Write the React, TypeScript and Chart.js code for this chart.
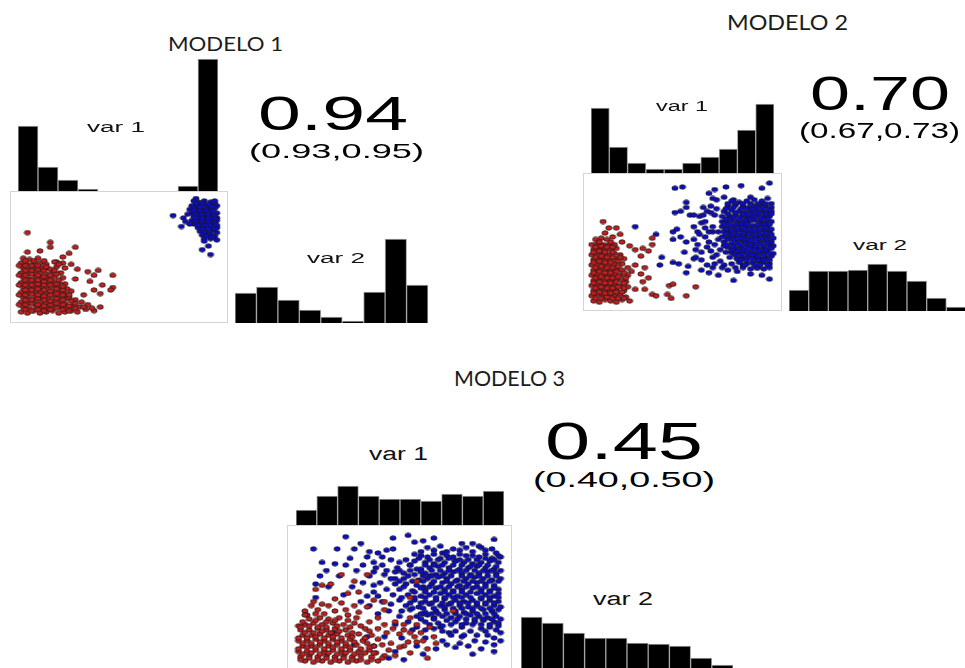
import React, { useEffect, useRef } from "react";
import { Chart, registerables } from "chart.js";
Chart.register(...registerables);

// ---------- DATA ----------
const titles = ["MODELO 1", "MODELO 2", "MODELO 3"];
const corrValues = ["0.94", "0.70", "0.45"];
const corrCIs = ["(0.93,0.95)", "(0.67,0.73)", "(0.40,0.50)"];
const varLabels = ["var 1", "var 2"];

const bins10 = ["1", "2", "3", "4", "5", "6", "7", "8", "9", "10"];
const bins9 = ["1", "2", "3", "4", "5", "6", "7", "8", "9"];

// histogram frequencies (relative units)
const m1Var1 = [65, 24, 11, 2, 0, 0, 0, 0, 5, 132];
const m1Var2 = [30, 36, 23, 13, 6, 2, 31, 84, 38];
const m2Var1 = [65, 26, 10, 4, 4, 10, 16, 24, 43, 69];
const m2Var2 = [21, 40, 40, 41, 47, 40, 30, 13, 4];
const m3Var1 = [15, 29, 39, 29, 26, 26, 24, 31, 29, 34];
const m3Var2 = [53, 47, 37, 32, 32, 27, 26, 24, 12, 5];

// scatter points [var1, var2] on a 0-100 scale
const m1Red = [
  [6,70],[17,62],[17,58],[6,54],[12,55],[29,58],[26,53],[23,50],[35,38],[40,39],[38,35],[47,35],[36,30],[42,27],[47,25],[46,23],[41,20],[33,19],[38,23],[35,11],[41,9],[32,13],[29,15],[29,32],[20,46],[15,41],[30,40],[27,44],
  [3,5],[6,4],[9,6],[12,4],[15,5],[18,6],[21,4],[24,5],[27,6],[30,5],[34,7],[38,6],
  [4,9],[7,8],[10,10],[13,9],[16,8],[19,10],[22,9],[25,8],[28,10],[31,9],
  [3,13],[6,12],[9,14],[12,13],[15,12],[18,14],[21,13],[24,12],[27,14],
  [4,17],[7,16],[10,18],[13,17],[16,16],[19,18],[22,17],[25,16],
  [3,21],[6,20],[9,22],[12,21],[15,20],[18,22],[21,21],[24,20],[27,22],
  [4,25],[7,24],[10,26],[13,25],[16,24],[19,26],[22,25],[25,24],
  [3,29],[6,28],[9,30],[12,29],[15,28],[18,30],[21,29],[24,28],
  [4,33],[7,32],[10,34],[13,33],[16,32],[19,34],[23,33],
  [3,37],[6,36],[9,38],[12,37],[15,36],[18,38],[22,37],
  [4,41],[7,40],[10,42],[13,41],[17,40],[20,42],[24,41],
  [3,45],[6,44],[9,46],[12,45],[15,44],[19,46],[23,45],
  [4,49],[7,48],[11,49],[14,47],
  [5,7],[8,6],[11,7],[14,6],[17,7],[20,8],[23,7],[26,6],[29,8],[33,9],[37,8],
  [2,11],[5,11],[8,12],[11,11],[14,10],[17,11],[20,12],[23,11],[26,10],[29,12],
  [5,15],[8,15],[11,16],[14,15],[17,14],[20,16],[23,15],[26,17],
  [2,19],[5,19],[8,20],[11,19],[14,18],[17,19],[20,20],[23,19],[26,19],
  [5,23],[8,23],[11,24],[14,23],[17,22],[20,24],[23,23],
  [2,27],[5,27],[8,27],[11,28],[14,27],[17,27],[20,28],[23,26],
  [5,31],[8,31],[11,31],[14,30],[17,31],[21,31],
  [2,35],[5,35],[8,36],[11,35],[14,34],[17,35],[20,36],
  [5,39],[8,39],[11,40],[14,39],[19,39],
  [2,43],[5,43],[8,43],[11,43],[15,42],[21,44],
  [5,47],[9,47]
];
const m1Blue = [
  [88,95],[91,96],[94,95],[96,94],
  [85,92],[88,92],[91,93],[94,92],[97,92],
  [84,89],[87,90],[90,89],[93,89],[96,90],
  [85,86],[88,86],[91,87],[94,86],[97,86],
  [86,83],[89,83],[92,84],[95,83],[97,82],
  [85,80],[88,80],[91,81],[94,80],[97,80],
  [86,77],[89,77],[92,78],[95,77],
  [88,74],[91,74],[94,75],[97,74],
  [89,71],[92,71],[95,72],[97,70],
  [90,68],[93,68],[96,67],
  [91,65],[94,65],[97,64],
  [87,98],[76,84],[81,82],[83,85],[80,75],[84,77],[90,56],[93,59],[94,52],[91,63],[82,79],[86,96],
  [87,94],[90,94],[93,93],[96,96],[86,90],[89,91],[92,90],[95,91],[86,88],[89,88],[92,88],[95,88],
  [87,85],[90,85],[93,85],[96,84],[87,82],[90,82],[93,82],[96,81],[87,79],[90,79],[93,79],[96,78],
  [88,76],[91,76],[94,76],[97,76],[90,73],[93,73],[96,73],[91,70],[94,69],[92,67],[95,66]
];

const m2Red = [
  [8,66],[11,61],[15,61],[13,54],[18,50],[22,47],[25,44],[29,45],[28,39],[32,43],[34,53],[34,48],[30,30],[32,22],[25,32],[23,27],[29,19],[25,13],[30,13],[34,9],[36,8],[43,16],[45,17],[42,9],[44,6],[52,8],[57,15],[20,19],[21,30],[28,25],
  [3,4],[6,3],[9,5],[12,4],[15,3],[18,5],[22,4],
  [2,8],[5,9],[8,8],[11,9],[14,8],[17,9],[20,7],
  [3,12],[6,13],[9,12],[12,12],[15,13],[19,12],
  [2,16],[5,17],[8,16],[11,16],[14,17],[17,16],[21,15],
  [3,20],[6,21],[9,20],[12,20],[15,21],[18,20],
  [2,24],[5,25],[8,24],[11,24],[14,25],[17,24],[21,24],
  [3,28],[6,29],[9,28],[12,28],[15,29],[18,28],
  [2,32],[5,33],[8,32],[11,32],[14,33],[18,33],
  [3,36],[6,37],[9,36],[12,36],[15,37],[19,37],
  [2,40],[5,41],[8,40],[11,40],[14,41],[17,40],
  [3,44],[6,45],[9,44],[12,44],[15,45],
  [2,48],[5,49],[8,48],[11,48],[14,48],
  [4,52],[7,53],[10,52],[17,56],[9,57],
  [4,6],[7,6],[10,7],[13,6],[16,6],[19,6],
  [3,10],[6,11],[9,10],[12,10],[15,11],[18,11],
  [4,14],[7,15],[10,14],[13,14],[16,15],[19,14],
  [3,18],[6,19],[9,18],[12,18],[15,19],[19,18],
  [4,22],[7,23],[10,22],[13,22],[16,23],[20,22],
  [3,26],[6,27],[9,26],[12,26],[15,27],[19,26],
  [4,30],[7,31],[10,30],[13,30],[16,31],
  [3,34],[6,35],[9,34],[12,34],[16,35],
  [4,38],[7,39],[10,38],[13,38],[17,38],
  [3,42],[6,43],[9,42],[13,42],
  [4,46],[7,47],[10,46],[13,46],
  [6,50],[12,50]
];
const m2Blue = [
  [46,92],[50,93],[25,62],[36,56],[45,58],[47,60],[46,73],[49,74],[52,81],[52,77],[45,52],[49,54],[52,50],[51,42],[39,38],[38,32],[45,34],[48,33],[52,26],[53,31],[56,37],[57,44],[56,52],[58,58],[60,65],[61,77],[64,88],[67,91],[68,83],[72,85],[73,93],[81,94],[86,85],[92,92],[96,96],[77,83],[54,71],[56,71],[59,70],[62,61],[66,58],[62,54],[64,50],[65,43],[66,38],[60,36],[63,32],[66,30],[72,32],[69,24],[77,20],[79,27],[86,25],[92,24],[96,21],[90,30],[82,32],[74,59],[71,66],[67,71],[65,73],[61,71],[69,52],[72,47],[76,42],[79,37],
  [76,82],[80,81],[84,82],[88,83],[92,82],[95,84],[97,80],
  [74,78],[78,79],[82,78],[85,77],[88,78],[91,79],[94,78],[97,77],
  [72,74],[76,75],[80,74],[83,73],[86,74],[89,75],[92,74],[95,73],[97,74],
  [71,70],[75,70],[78,71],[81,70],[84,69],[87,70],[90,71],[93,70],[96,70],
  [73,66],[76,67],[79,66],[82,65],[85,66],[88,67],[91,66],[94,65],[97,66],
  [71,62],[74,61],[77,62],[80,63],[83,62],[86,61],[89,62],[92,63],[95,62],
  [72,58],[75,57],[78,58],[81,59],[84,58],[87,57],[90,58],[93,59],[96,58],
  [71,54],[74,53],[77,54],[80,55],[83,54],[86,53],[89,54],[92,55],[95,54],[98,53],
  [72,50],[76,49],[79,50],[82,51],[85,50],[88,49],[91,50],[94,51],[97,50],
  [74,46],[78,45],[81,46],[84,47],[87,46],[90,45],[93,46],[96,47],
  [73,42],[77,41],[80,42],[83,43],[86,42],[89,41],[92,42],[95,43],[98,41],
  [75,38],[79,37],[82,38],[85,39],[88,38],[91,37],[94,38],[97,39],
  [80,34],[84,33],[87,34],[90,35],[93,34],[96,33],
  [82,30],[86,29],[89,30],[93,29],[96,30],
  [74,80],[78,80],[82,80],[86,80],[90,80],[94,80],
  [73,76],[77,77],[81,76],[84,76],[87,76],[90,77],[93,76],[96,75],
  [74,72],[78,73],[82,72],[85,71],[88,72],[91,73],[94,72],[97,72],
  [73,68],[77,69],[80,68],[83,67],[86,68],[89,69],[92,68],[95,68],
  [72,64],[75,64],[78,64],[81,64],[84,64],[87,63],[90,64],[93,64],[96,64],
  [73,60],[76,59],[79,60],[82,61],[85,60],[88,59],[91,60],[94,61],[97,60],
  [73,56],[76,55],[79,56],[82,57],[85,56],[88,55],[91,56],[94,57],[97,56],
  [74,52],[77,52],[80,53],[83,52],[86,51],[89,52],[92,53],[95,52],
  [73,48],[77,47],[80,48],[83,49],[86,48],[89,47],[92,48],[95,49],[98,47],
  [76,44],[79,43],[82,44],[85,45],[88,44],[91,43],[94,44],[97,45],
  [78,40],[81,40],[84,41],[87,40],[90,39],[93,40],[96,41],
  [81,36],[84,36],[87,37],[90,36],[93,36],[96,36],
  [83,32],[88,32],[91,32],[95,32],
  [56,62],[58,48],[60,42],[62,66],[63,46],[64,58],[65,78],[66,62],[67,48],[68,40],[68,76],[69,58],[70,44],[70,35],[66,84],[63,74],[59,56],[57,38],[60,28],[64,26],[67,33],[71,30],[74,28],[76,33],[78,30]
];

const m3Red = [
  [23,67],[29,62],[18,60],[14,59],[11,56],[35,67],[31,54],[26,53],[20,49],[10,47],[17,44],[23,46],[29,44],[35,43],[38,48],[43,47],[6,40],[3,29],[7,37],[12,41],[26,37],[30,35],[36,32],[40,35],[43,30],[48,32],[52,30],[55,35],[58,30],[50,23],[55,24],[60,24],[64,28],[46,16],[52,14],[58,17],[63,12],[67,16],[48,7],[55,9],[63,5],[43,41],[58,62],[75,40],[55,50],
  [6,3],[10,2],[14,3],[18,2],[22,3],[26,2],[30,3],[35,2],[40,3],
  [4,6],[8,7],[12,6],[16,7],[20,6],[24,7],[28,6],[32,7],[37,6],[43,7],
  [3,10],[7,10],[11,11],[15,10],[19,11],[23,10],[27,11],[31,10],[36,11],
  [5,14],[9,14],[13,15],[17,14],[21,15],[25,14],[30,15],[38,14],
  [3,18],[7,18],[11,19],[15,18],[19,19],[23,18],[27,19],[33,18],[40,19],
  [5,22],[9,22],[13,23],[17,22],[21,23],[26,22],[31,23],[37,22],
  [4,26],[8,26],[12,27],[16,26],[20,27],[25,26],[34,27],
  [6,30],[10,31],[14,30],[19,31],[24,30],[29,31],
  [8,34],[13,35],[17,34],[22,35],
  [4,4],[8,5],[12,4],[16,5],[20,4],[24,5],[28,4],[32,4],[37,4],[42,5],
  [5,8],[9,9],[13,8],[17,9],[21,8],[25,9],[29,8],[34,9],[39,9],
  [3,12],[7,13],[11,13],[15,12],[19,13],[23,12],[27,13],[32,12],[36,13],
  [5,16],[9,16],[13,17],[17,16],[21,17],[25,16],[29,17],[35,16],
  [3,20],[7,20],[11,21],[15,20],[19,21],[23,20],[28,21],[34,20],
  [6,24],[10,24],[14,25],[18,24],[22,25],[28,24],[36,25],
  [4,28],[8,29],[12,28],[16,28],[21,29],[27,28],[32,29],
  [5,32],[11,33],[16,32],[20,33],[26,33],
  [6,37],[11,38],[15,38],[20,40],[25,41],[31,39],[9,44],[14,45],
  [45,11],[50,13],[54,17],[47,27],[52,26],[57,21],[61,18],[66,21],[44,24],[40,27],[42,15],[38,9]
];
const m3Blue = [
  [25,95],[10,86],[21,86],[29,86],[14,76],[20,75],[25,74],[11,60],[17,58],[11,50],[35,80],[33,74],[38,76],[40,83],[47,94],[54,96],[57,91],[61,92],[66,94],[47,86],[44,85],[38,69],[43,67],[48,69],[42,74],[33,61],[38,59],[35,51],[32,47],[48,60],[52,64],[55,74],[60,81],[70,83],[79,90],[84,90],[94,93],[88,87],[76,77],[40,51],[46,45],[50,48],[19,24],[29,15],[35,21],[48,10],[43,21],[51,20],[58,14],[61,8],[67,12],[72,15],[76,13],[82,14],[88,12],[94,15],[91,22],[97,24],[55,41],[61,38],[64,45],[66,35],[69,28],[73,24],[79,21],[85,18],[94,10],[58,71],[64,66],[61,58],
  [60,84],[66,85],[72,84],[78,85],[84,84],[90,85],[95,83],
  [63,80],[69,79],[75,80],[81,81],[87,80],[93,79],[97,80],
  [50,76],[57,77],[62,76],[66,75],[71,76],[76,77],[80,76],[84,75],[88,76],[92,77],[96,76],
  [49,72],[60,71],[64,72],[68,73],[73,72],[78,71],[82,72],[86,73],[90,72],[94,71],
  [52,68],[57,67],[62,68],[67,67],[71,68],[75,69],[79,68],[83,67],[87,68],[91,69],[95,68],
  [48,64],[59,63],[63,64],[68,65],[72,64],[77,63],[81,64],[85,65],[89,64],[93,63],[97,64],
  [53,60],[58,59],[65,60],[70,61],[74,60],[78,59],[82,60],[86,61],[90,60],[94,59],
  [50,56],[56,55],[62,56],[67,57],[71,56],[75,55],[79,56],[84,57],[88,56],[92,55],[96,56],
  [54,52],[60,51],[64,52],[69,53],[73,52],[77,51],[81,52],[86,53],[90,52],[94,51],
  [57,48],[62,47],[67,48],[71,49],[76,48],[80,47],[84,48],[88,49],[92,48],[96,47],
  [53,44],[59,43],[69,44],[73,45],[78,44],[82,43],[86,44],[90,45],[94,44],[97,43],
  [51,40],[62,39],[67,40],[71,41],[76,40],[80,39],[84,40],[89,41],[93,40],
  [58,36],[63,37],[70,36],[74,35],[78,36],[83,37],[87,36],[91,35],[95,36],
  [62,32],[68,31],[76,32],[81,31],[85,32],[89,33],[94,32],
  [58,28],[66,27],[79,28],[88,27],[92,28],[96,29],
  [63,87],[69,88],[75,86],[81,87],[87,88],[93,86],
  [57,82],[66,82],[72,81],[78,82],[84,81],[90,82],[96,81],
  [53,78],[59,79],[64,78],[68,78],[73,79],[78,78],[82,78],[86,78],[90,79],[94,78],
  [55,74],[62,74],[66,74],[70,74],[75,74],[79,74],[83,73],[87,74],[91,74],[95,73],
  [50,70],[55,70],[60,69],[65,70],[69,70],[73,70],[77,70],[81,70],[85,70],[89,70],[93,70],[97,70],
  [54,66],[61,66],[65,66],[70,66],[74,66],[79,66],[83,66],[87,66],[91,66],[95,66],
  [50,62],[56,62],[61,62],[66,62],[72,62],[76,62],[80,62],[84,62],[88,62],[92,62],[96,62],
  [52,58],[60,57],[64,58],[69,58],[73,58],[77,58],[81,58],[86,58],[90,58],[94,57],
  [57,54],[62,54],[66,54],[71,54],[75,54],[79,54],[83,54],[88,54],[92,54],[96,53],
  [51,50],[57,50],[62,50],[67,50],[71,50],[75,50],[79,50],[83,50],[88,50],[92,50],[96,50],
  [55,46],[60,46],[65,46],[70,46],[74,46],[78,46],[82,46],[86,46],[90,46],[94,46],
  [56,42],[61,42],[66,42],[71,43],[75,42],[79,42],[84,42],[88,42],[92,42],[96,41],
  [60,38],[65,38],[68,38],[72,38],[76,38],[81,38],[86,38],[90,38],[94,38],
  [60,34],[66,34],[72,33],[77,34],[81,34],[85,34],[89,34],[93,34],[97,34],
  [64,30],[70,29],[74,30],[79,30],[84,30],[88,30],[92,30],[96,31],
  [62,26],[70,25],[76,25],[83,25],[90,25],[95,26],
  [74,22],[80,22],[86,22],[94,20],
  [36,84],[42,80],[46,78],[39,72],[44,70],[36,66],[46,64],[41,61],[44,56],[38,54],[47,52],[42,47],[36,44],[45,40],[50,36],[48,30],[40,38],[30,70],[27,79],[32,90],[16,70],[22,66],[28,58],[24,52],[13,66],
  [38,14],[45,5],[52,4],[56,26],[62,20],[70,18],[78,16],[84,8],[90,17],[97,18],[54,32]
];

// ---------- LAYOUT / STYLE ----------
const ARIAL = "'Liberation Sans', Arial, sans-serif";
const TITLE_FONT = "Lato, 'Open Sans', sans-serif";
const RED = "#c81e1e";
const BLUE = "#0c0cd0";

const panels = [
  {
    title: { left: 168, baseline: 52, width: 115, size: 18.7 },
    v1: { left: 87, baseline: 132, width: 58, size: 15.5 },
    v2: { left: 307, baseline: 263, width: 58, size: 15.5 },
    r: { left: 258, baseline: 130, width: 150, size: 49 },
    ci: { left: 249, baseline: 158, width: 175, size: 21 },
    h1: { left: 18, top: 55, width: 200, height: 136, values: m1Var1, labels: bins10 },
    h2: { left: 235, top: 235, width: 193, height: 88, values: m1Var2, labels: bins9 },
    sc: { left: 10, top: 191, width: 218, height: 132, red: m1Red, blue: m1Blue },
  },
  {
    title: { left: 727, baseline: 31, width: 121, size: 22 },
    v1: { left: 656, baseline: 111, width: 52, size: 15.5 },
    v2: { left: 853, baseline: 250, width: 54, size: 15.5 },
    r: { left: 810, baseline: 110, width: 140, size: 49 },
    ci: { left: 799, baseline: 139, width: 161, size: 21.5 },
    h1: { left: 591, top: 100, width: 183, height: 73, values: m2Var1, labels: bins10 },
    h2: { left: 789, top: 259, width: 177, height: 52, values: m2Var2, labels: bins9 },
    sc: { left: 583, top: 173, width: 199, height: 138, red: m2Red, blue: m2Blue },
  },
  {
    title: { left: 454, baseline: 387, width: 111, size: 22 },
    v1: { left: 369, baseline: 460, width: 59, size: 18 },
    v2: { left: 593, baseline: 605, width: 60, size: 18 },
    r: { left: 545, baseline: 459, width: 158, size: 52 },
    ci: { left: 533, baseline: 488, width: 182, size: 22.5 },
    h1: { left: 296, top: 480, width: 208, height: 45, values: m3Var1, labels: bins10 },
    h2: { left: 521, top: 612, width: 212, height: 58, values: m3Var2, labels: bins10 },
    sc: { left: 287, top: 525, width: 225, height: 145, red: m3Red, blue: m3Blue },
  },
];

let measureCtx: CanvasRenderingContext2D | null = null;
function textWidth(text: string, font: string) {
  if (!measureCtx) measureCtx = document.createElement("canvas").getContext("2d");
  measureCtx!.font = font;
  return measureCtx!.measureText(text).width;
}

function StretchText({ text, pos, family, k, color }: any) {
  const w = textWidth(text, `${pos.size}px ${family}`);
  const s = pos.width / w;
  return (
    <div
      style={{
        position: "absolute",
        left: pos.left,
        top: pos.baseline - k * pos.size,
        fontSize: pos.size,
        lineHeight: `${pos.size}px`,
        fontFamily: family,
        whiteSpace: "nowrap",
        transform: `scaleX(${s})`,
        transformOrigin: "0 0",
        color,
      }}
    >
      {text}
    </div>
  );
}

function Histogram({ cfg }: any) {
  const ref = useRef<HTMLCanvasElement>(null);
  useEffect(() => {
    const chart = new Chart(ref.current!, {
      type: "bar",
      data: {
        labels: cfg.labels,
        datasets: [
          {
            data: cfg.values,
            backgroundColor: "#000000",
            borderColor: "#a0a0a0",
            borderWidth: 1,
            barPercentage: 1,
            categoryPercentage: 1,
          },
        ],
      },
      options: {
        animation: false,
        responsive: false,
        events: [],
        layout: { padding: 0 },
        plugins: { legend: { display: false }, tooltip: { enabled: false } },
        scales: {
          x: { display: false },
          y: { display: false, min: 0, max: cfg.height },
        },
      },
    });
    return () => chart.destroy();
  }, []);
  return (
    <canvas
      ref={ref}
      width={cfg.width}
      height={cfg.height}
      style={{ position: "absolute", left: cfg.left, top: cfg.top, width: cfg.width, height: cfg.height }}
    />
  );
}

function makeDot(fill: string) {
  const c = document.createElement("canvas");
  c.width = 8;
  c.height = 6;
  const g = c.getContext("2d")!;
  g.beginPath();
  g.ellipse(4, 3, 3.1, 2.2, 0, 0, Math.PI * 2);
  g.fillStyle = fill;
  g.fill();
  g.lineWidth = 0.8;
  g.strokeStyle = "#1a1a1a";
  g.stroke();
  return c;
}

function Scatter({ cfg }: any) {
  const ref = useRef<HTMLCanvasElement>(null);
  useEffect(() => {
    const chart = new Chart(ref.current!, {
      type: "scatter",
      data: {
        datasets: [
          {
            label: "grupo 1",
            data: cfg.red.map(([x, y]: number[]) => ({ x, y })),
            pointStyle: makeDot(RED) as any,
            pointRadius: 3,
            pointHoverRadius: 3,
          },
          {
            label: "grupo 2",
            data: cfg.blue.map(([x, y]: number[]) => ({ x, y })),
            pointStyle: makeDot(BLUE) as any,
            pointRadius: 3,
            pointHoverRadius: 3,
          },
        ],
      },
      options: {
        animation: false,
        responsive: false,
        events: [],
        layout: { padding: 0 },
        plugins: { legend: { display: false }, tooltip: { enabled: false } },
        scales: {
          x: { type: "linear", display: false, min: 0, max: 100 },
          y: { type: "linear", display: false, min: 0, max: 100 },
        },
      },
    });
    return () => chart.destroy();
  }, []);
  return (
    <div
      style={{
        position: "absolute",
        left: cfg.left,
        top: cfg.top,
        width: cfg.width,
        height: cfg.height,
        boxSizing: "border-box",
        border: "1px solid #d4d4d4",
      }}
    >
      <canvas
        ref={ref}
        width={cfg.width - 2}
        height={cfg.height - 2}
        style={{ display: "block", width: cfg.width - 2, height: cfg.height - 2 }}
      />
    </div>
  );
}

export default function App() {
  return (
    <div
      style={{
        position: "absolute",
        left: 0,
        top: 0,
        width: 965,
        height: 668,
        overflow: "hidden",
        background: "#ffffff",
      }}
    >
      {panels.map((p, i) => (
        <React.Fragment key={i}>
          <Histogram cfg={p.h1} />
          <Histogram cfg={p.h2} />
          <Scatter cfg={p.sc} />
          <StretchText text={titles[i]} pos={p.title} family={TITLE_FONT} k={0.887} color="#1c1c1c" />
          <StretchText text={varLabels[0]} pos={p.v1} family={ARIAL} k={0.8465} color="#111111" />
          <StretchText text={varLabels[1]} pos={p.v2} family={ARIAL} k={0.8465} color="#111111" />
          <StretchText text={corrValues[i]} pos={p.r} family={ARIAL} k={0.8465} color="#000000" />
          <StretchText text={corrCIs[i]} pos={p.ci} family={ARIAL} k={0.8465} color="#000000" />
        </React.Fragment>
      ))}
    </div>
  );
}
